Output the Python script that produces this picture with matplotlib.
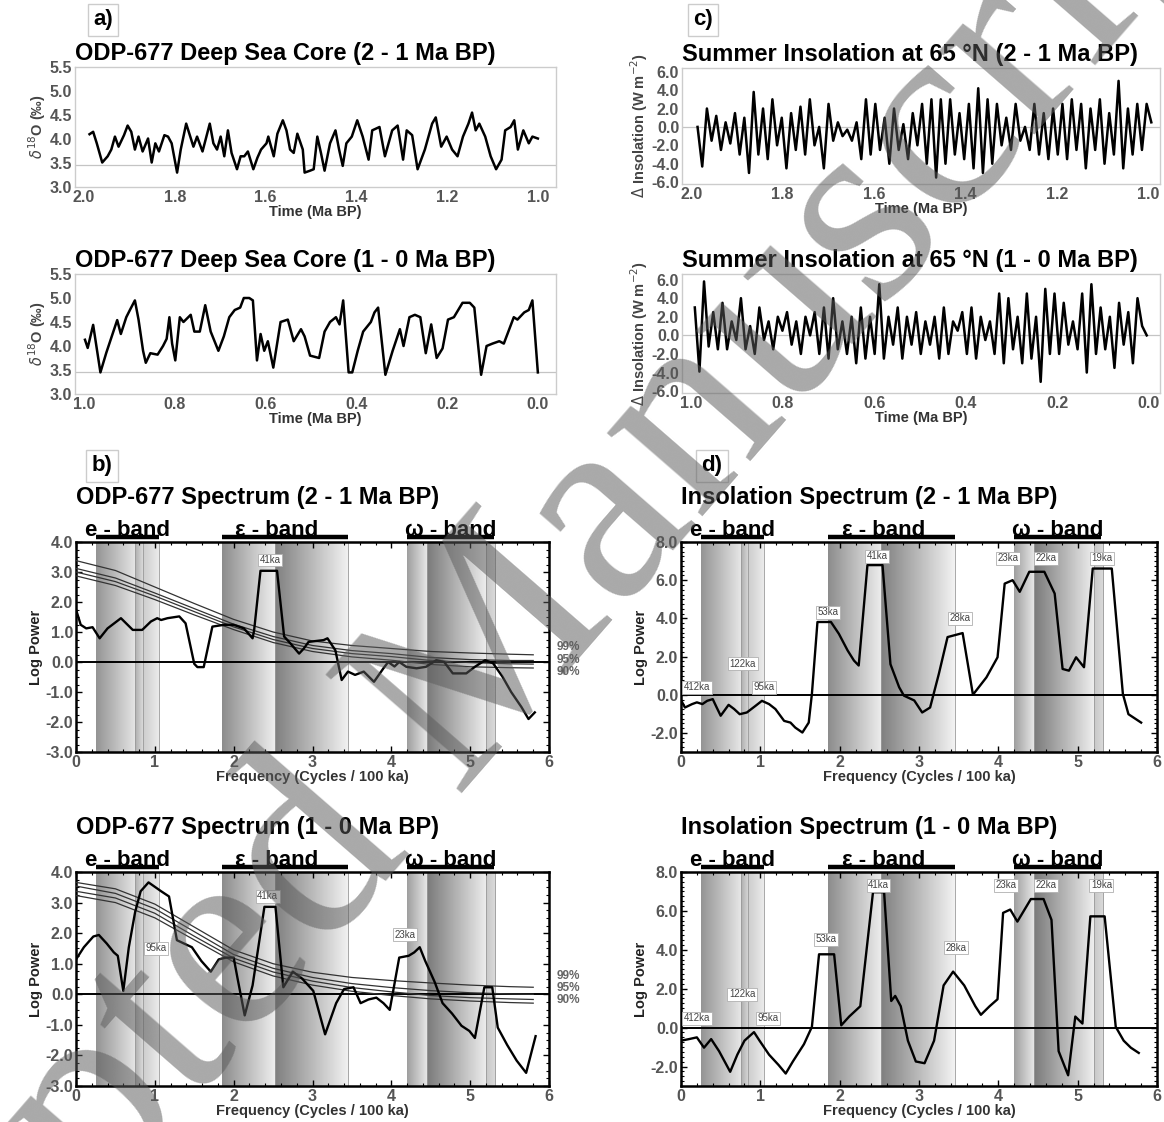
import numpy as np
import matplotlib
matplotlib.use("Agg")
import matplotlib.pyplot as plt
from matplotlib.ticker import MultipleLocator
from matplotlib.transforms import blended_transform_factory

plt.rcParams["font.family"] = ["Liberation Sans", "DejaVu Sans"]

W, H = 1164, 1122

# ODP-677 benthic d18O, 2 - 1 Ma BP
odp_old_age = [1.988, 1.980, 1.972, 1.960, 1.948, 1.940, 1.932, 1.924, 1.912, 1.904,
               1.896, 1.888, 1.880, 1.871, 1.859, 1.851, 1.843, 1.835, 1.823, 1.815,
               1.807, 1.795, 1.787, 1.775, 1.767, 1.759, 1.751, 1.739, 1.723, 1.715,
               1.707, 1.699, 1.691, 1.683, 1.675, 1.663, 1.655, 1.647, 1.639, 1.627,
               1.618, 1.610, 1.598, 1.594, 1.582, 1.574, 1.562, 1.554, 1.546, 1.538,
               1.530, 1.518, 1.514, 1.502, 1.494, 1.486, 1.478, 1.470, 1.458, 1.446,
               1.438, 1.430, 1.422, 1.410, 1.398, 1.386, 1.373, 1.365, 1.349, 1.337,
               1.321, 1.309, 1.297, 1.289, 1.277, 1.265, 1.249, 1.233, 1.225, 1.213,
               1.201, 1.189, 1.177, 1.165, 1.153, 1.145, 1.137, 1.129, 1.116, 1.104,
               1.092, 1.080, 1.072, 1.060, 1.052, 1.044, 1.032, 1.020, 1.012, 1.000]
odp_old_d18o = [4.10, 4.15, 3.91, 3.51, 3.64, 3.78, 4.05, 3.84, 4.08, 4.28,
                4.15, 3.78, 4.05, 3.74, 4.01, 3.51, 3.91, 3.74, 4.08, 4.05,
                3.91, 3.30, 3.78, 4.32, 4.08, 3.84, 4.05, 3.74, 4.32, 3.91,
                3.78, 4.05, 3.64, 4.18, 3.71, 3.37, 3.64, 3.64, 3.74, 3.37,
                3.61, 3.78, 3.91, 4.05, 3.64, 4.11, 4.39, 4.18, 3.78, 3.71,
                4.11, 3.78, 3.30, 3.34, 3.37, 4.05, 3.71, 3.34, 3.91, 4.18,
                3.78, 3.44, 3.91, 4.05, 4.39, 4.05, 3.57, 4.18, 4.25, 3.64,
                4.18, 4.28, 3.57, 4.18, 4.08, 3.37, 3.78, 4.32, 4.45, 3.84,
                4.05, 3.78, 3.64, 4.05, 4.32, 4.55, 4.18, 4.32, 4.05, 3.64,
                3.37, 3.57, 4.18, 4.25, 4.39, 3.78, 4.18, 3.91, 4.05, 4.01]

# ODP-677 benthic d18O, 1 - 0 Ma BP
odp_new_age = [0.998, 0.992, 0.980, 0.964, 0.951, 0.939, 0.927, 0.919, 0.907, 0.899,
               0.888, 0.880, 0.870, 0.864, 0.854, 0.838, 0.826, 0.818, 0.812, 0.806,
               0.799, 0.789, 0.781, 0.765, 0.757, 0.745, 0.733, 0.721, 0.704, 0.692,
               0.680, 0.668, 0.656, 0.648, 0.636, 0.628, 0.619, 0.611, 0.603, 0.595,
               0.583, 0.567, 0.551, 0.538, 0.522, 0.514, 0.502, 0.482, 0.470, 0.458,
               0.445, 0.437, 0.429, 0.417, 0.409, 0.397, 0.385, 0.368, 0.360, 0.352,
               0.336, 0.320, 0.304, 0.296, 0.283, 0.271, 0.259, 0.247, 0.235, 0.223,
               0.210, 0.198, 0.185, 0.166, 0.150, 0.140, 0.125, 0.113, 0.100, 0.085,
               0.075, 0.053, 0.045, 0.030, 0.020, 0.012, 0.000]
odp_new_d18o = [4.13, 3.96, 4.44, 3.45, 3.86, 4.20, 4.54, 4.25, 4.60, 4.75,
                4.95, 4.55, 3.90, 3.65, 3.85, 3.82, 4.00, 4.15, 4.60, 4.05,
                3.70, 4.60, 4.50, 4.65, 4.30, 4.30, 4.85, 4.30, 3.90, 4.20,
                4.60, 4.75, 4.80, 5.00, 5.00, 4.95, 3.70, 4.25, 3.90, 4.10,
                3.55, 4.50, 4.55, 4.10, 4.35, 4.20, 3.80, 3.75, 4.30, 4.50,
                4.60, 4.45, 4.95, 3.45, 3.45, 3.90, 4.30, 4.50, 4.70, 4.80,
                3.40, 3.90, 4.35, 4.00, 4.60, 4.65, 4.60, 3.85, 4.45, 3.75,
                3.95, 4.55, 4.60, 4.90, 4.90, 4.80, 3.40, 4.00, 4.05, 4.10,
                4.05, 4.60, 4.55, 4.70, 4.75, 4.95, 3.45]

# 65N summer insolation anomaly, successive turning points (evenly spaced in time)
insol_old = [0.0, -4.3, 2.0, -1.5, 1.2, -2.5, 0.5, -1.8, 1.5, -3.0,
             1.0, -5.0, 3.8, -3.0, 2.0, -3.5, 3.0, -2.0, 1.0, -4.5,
             1.5, -2.5, 2.2, -3.0, 3.0, -2.0, 0.0, -4.5, 2.5, -1.5,
             0.5, -1.0, -0.3, -1.5, 0.5, -3.5, 3.0, -3.0, 2.5, -2.5,
             1.0, -4.0, 2.0, -2.5, 0.3, -3.5, 1.5, -2.0, 2.5, -4.0,
             3.0, -5.5, 3.0, -4.0, 3.0, -3.0, 1.5, -3.5, 2.5, -4.5,
             4.2, -5.0, 3.0, -4.0, 2.5, -2.0, 1.0, -2.5, 2.5, -1.5,
             0.0, -2.5, 2.5, -3.0, 1.5, -3.5, 2.0, -3.0, 2.5, -3.5,
             3.0, -2.5, 2.5, -4.5, 2.0, -2.5, 3.0, -4.0, 1.5, -3.0,
             5.0, -4.5, 2.0, -3.0, 2.5, -2.5, 2.5, 0.5]
insol_old_span = (1.986, 0.994)
insol_new = [3.0, -3.9, 5.8, -1.2, 2.5, -1.5, 3.5, -1.5, 1.5, -0.5,
             4.0, -1.5, 1.0, -2.0, 3.0, -0.5, 1.5, -1.5, 2.0, 0.5,
             2.5, -1.0, 1.5, -2.0, 2.0, 0.0, 2.5, -2.0, 3.0, -2.5,
             4.0, -1.5, 1.5, -2.0, 2.0, -3.0, 3.0, -2.5, 2.0, -2.0,
             5.5, -2.5, 2.0, -1.0, 3.0, -2.5, 2.0, -1.0, 2.5, -2.0,
             1.5, -1.0, 2.0, -2.5, 3.0, -2.0, 1.5, 0.5, 2.5, -2.0,
             3.0, -2.5, 2.0, -0.5, 1.5, -2.0, 4.5, -3.0, 4.0, -1.5,
             2.0, -3.0, 4.5, -2.5, 2.0, -5.0, 5.0, -2.0, 4.5, -2.0,
             3.5, -1.0, 1.5, -1.5, 4.5, -4.0, 5.5, -2.0, 3.0, -1.5,
             2.0, -3.5, 3.5, -1.0, 2.5, -3.0, 4.0, 1.0, 0.0]
insol_new_span = (0.992, 0.004)

# ODP-677 power spectra
odp_old_freq = [0.00, 0.06, 0.13, 0.21, 0.30, 0.40, 0.57, 0.72, 0.84, 0.95,
                1.03, 1.08, 1.16, 1.31, 1.39, 1.50, 1.54, 1.62, 1.73, 1.88,
                2.00, 2.13, 2.24, 2.26, 2.34, 2.55, 2.64, 2.72, 2.83, 2.89,
                2.95, 3.14, 3.19, 3.29, 3.37, 3.45, 3.54, 3.65, 3.78, 3.90,
                3.96, 4.04, 4.10, 4.19, 4.32, 4.44, 4.57, 4.67, 4.78, 4.95,
                5.06, 5.19, 5.29, 5.41, 5.52, 5.65, 5.74, 5.82]
odp_old_pow = [1.75, 1.24, 1.12, 1.16, 0.79, 1.12, 1.46, 1.07, 1.07, 1.35,
               1.46, 1.40, 1.46, 1.52, 1.29, -0.06, -0.17, -0.17, 1.18, 1.24,
               1.24, 1.12, 0.79, 1.07, 3.04, 3.04, 0.85, 0.62, 0.28, 0.45,
               0.67, 0.73, 0.79, 0.39, -0.60, -0.32, -0.43, -0.32, -0.66, -0.21,
               0.00, -0.15, 0.00, -0.16, -0.21, -0.16, 0.06, 0.00, -0.38, -0.38,
               -0.16, 0.06, -0.04, -0.49, -1.00, -1.50, -1.90, -1.68]
odp_new_freq = [0.00, 0.10, 0.22, 0.29, 0.39, 0.48, 0.53, 0.60, 0.67, 0.75,
                0.82, 0.92, 1.08, 1.18, 1.28, 1.37, 1.47, 1.59, 1.71, 1.81,
                1.90, 2.00, 2.05, 2.14, 2.24, 2.39, 2.53, 2.63, 2.75, 2.87,
                3.01, 3.16, 3.30, 3.40, 3.52, 3.61, 3.71, 3.81, 3.90, 3.98,
                4.10, 4.22, 4.29, 4.36, 4.43, 4.55, 4.65, 4.77, 4.89, 4.99,
                5.06, 5.18, 5.28, 5.35, 5.47, 5.59, 5.71, 5.83]
odp_new_pow = [1.14, 1.54, 1.89, 1.94, 1.66, 1.37, 1.26, 0.11, 1.54, 2.69,
               3.37, 3.66, 3.37, 3.20, 1.77, 1.66, 1.54, 1.09, 0.74, 1.14,
               1.20, 1.20, 0.51, -0.69, 0.29, 2.86, 2.86, 0.23, 0.74, 0.51,
               0.11, -1.31, -0.29, 0.17, 0.23, -0.29, -0.17, -0.11, -0.29, -0.51,
               1.20, 1.26, 1.37, 1.54, 1.09, 0.40, -0.29, -0.63, -1.03, -1.20,
               -1.43, 0.23, 0.23, -1.09, -1.66, -2.17, -2.57, -1.37]

# red-noise confidence levels for the ODP spectra
conf_freq = [0.0, 0.5, 1.0, 1.5, 2.0, 2.5, 3.0, 3.5, 4.0, 4.5, 5.0, 5.5, 5.8]
odp_old_c99 = [3.38, 3.05, 2.50, 1.95, 1.42, 1.00, 0.70, 0.55, 0.45, 0.35, 0.30, 0.26, 0.24]
odp_old_c95 = [3.12, 2.80, 2.30, 1.78, 1.26, 0.85, 0.55, 0.38, 0.28, 0.15, 0.08, 0.05, 0.05]
odp_old_c90 = [3.00, 2.68, 2.20, 1.68, 1.17, 0.75, 0.45, 0.28, 0.18, 0.05, -0.02, -0.06, -0.07]
odp_old_cm = [2.87, 2.55, 2.08, 1.57, 1.08, 0.65, 0.35, 0.17, 0.06, -0.08, -0.16, -0.19, -0.20]
odp_new_c99 = [3.66, 3.45, 2.95, 2.20, 1.45, 1.00, 0.72, 0.55, 0.45, 0.37, 0.30, 0.25, 0.23]
odp_new_c95 = [3.54, 3.30, 2.80, 2.05, 1.30, 0.85, 0.55, 0.35, 0.22, 0.12, 0.05, 0.01, 0.00]
odp_new_c90 = [3.37, 3.15, 2.65, 1.90, 1.18, 0.73, 0.43, 0.22, 0.08, -0.04, -0.11, -0.15, -0.17]
odp_new_cm = [3.23, 3.00, 2.50, 1.78, 1.06, 0.60, 0.30, 0.10, -0.04, -0.15, -0.22, -0.27, -0.29]

# insolation power spectra
ins_old_freq = [0.00, 0.05, 0.14, 0.20, 0.27, 0.33, 0.40, 0.45, 0.50, 0.60,
                0.67, 0.74, 0.83, 0.94, 1.02, 1.11, 1.19, 1.30, 1.38, 1.44,
                1.53, 1.61, 1.65, 1.72, 1.89, 1.99, 2.10, 2.18, 2.24, 2.35,
                2.54, 2.64, 2.75, 2.81, 2.94, 3.04, 3.14, 3.25, 3.36, 3.55,
                3.68, 3.85, 3.99, 4.08, 4.18, 4.27, 4.39, 4.58, 4.71, 4.81,
                4.89, 4.98, 5.08, 5.19, 5.43, 5.57, 5.64, 5.80]
ins_old_pow = [-0.28, -0.67, -0.49, -0.40, -0.49, -0.32, -0.23, -0.67, -1.10, -0.53,
               -0.75, -1.02, -0.93, -0.58, -0.32, -0.49, -0.75, -1.37, -1.46, -1.72,
               -1.98, -1.46, 0.04, 3.81, 3.81, 3.19, 2.32, 1.79, 1.53, 6.79,
               6.79, 1.60, 0.39, -0.05, -0.30, -0.93, -0.67, 1.09, 3.02, 3.23,
               0.00, 0.91, 1.96, 5.82, 6.00, 5.39, 6.44, 6.44, 5.30, 1.35,
               1.26, 1.96, 1.44, 6.61, 6.61, 0.04, -1.02, -1.46]
ins_new_freq = [0.00, 0.10, 0.20, 0.29, 0.38, 0.48, 0.62, 0.71, 0.80, 0.92,
                0.99, 1.11, 1.23, 1.32, 1.41, 1.55, 1.65, 1.74, 1.93, 2.02,
                2.12, 2.26, 2.42, 2.56, 2.65, 2.70, 2.77, 2.86, 2.96, 3.07,
                3.19, 3.31, 3.43, 3.57, 3.71, 3.78, 3.89, 3.99, 4.06, 4.15,
                4.24, 4.41, 4.57, 4.67, 4.76, 4.88, 4.97, 5.06, 5.16, 5.34,
                5.48, 5.58, 5.67, 5.77]
ins_new_pow = [-0.67, -0.59, -0.50, -1.03, -0.59, -1.21, -2.27, -1.39, -0.67, -0.23,
               -0.67, -1.39, -1.92, -2.36, -1.74, -0.85, 0.04, 3.77, 3.77, 0.12,
               0.57, 1.10, 6.96, 6.96, 1.37, 1.63, 1.10, -0.67, -1.74, -1.83,
               -0.67, 2.17, 2.88, 2.17, 1.10, 0.66, 1.10, 1.46, 5.90, 6.07,
               5.45, 6.61, 6.61, 5.54, -1.21, -2.45, 0.57, 0.21, 5.72, 5.72,
               0.04, -0.67, -1.03, -1.30]

# peak annotations: (label, frequency, log power)
odp_old_peaks = [("41ka", 2.46, 3.40)]
odp_new_peaks = [("41ka", 2.43, 3.20), ("95ka", 1.02, 1.50), ("23ka", 4.17, 1.95)]
ins_old_peaks = [("412ka", 0.20, 0.40), ("122ka", 0.78, 1.62), ("95ka", 1.05, 0.40),
                 ("53ka", 1.85, 4.33), ("41ka", 2.47, 7.25), ("28ka", 3.52, 4.00),
                 ("23ka", 4.12, 7.15), ("22ka", 4.60, 7.15), ("19ka", 5.31, 7.15)]
ins_new_peaks = [("412ka", 0.20, 0.48), ("122ka", 0.77, 1.72), ("95ka", 1.10, 0.48),
                 ("53ka", 1.83, 4.55), ("41ka", 2.49, 7.32), ("28ka", 3.47, 4.10),
                 ("23ka", 4.10, 7.32), ("22ka", 4.60, 7.32), ("19ka", 5.30, 7.32)]

# orbital bands (cycles / 100 ka) and the sub-bands shaded inside them
band_names = ["e - band", "\u03b5 - band", "\u03c9 - band"]
band_spans = [(0.25, 1.05), (1.85, 3.45), (4.20, 5.30)]
band_label_x = [0.65, 2.55, 4.75]
shade_x0 = [0.25, 0.75, 0.85, 1.85, 2.52, 4.20, 4.45, 5.20]
shade_x1 = [0.75, 0.85, 1.05, 2.52, 3.45, 4.45, 5.20, 5.32]
shade_dark = [0.58, 0.68, 0.80, 0.55, 0.50, 0.62, 0.48, 0.78]
shade_light = [0.90, 0.85, 0.92, 0.93, 0.95, 0.90, 0.93, 0.86]

conf_labels = ["99%", "95%", "90%"]

TICK_KW = dict(labelsize=11.5, labelcolor="#555555")
TITLE_SIZE = 17

fig = plt.figure(figsize=(W / 100, H / 100), dpi=100)
fig.patch.set_facecolor("white")


def px_axes(left, top, right, bottom):
    return fig.add_axes([left / W, 1 - bottom / H, (right - left) / W, (bottom - top) / H])


def bold_ticks(ax):
    for lab in ax.get_xticklabels() + ax.get_yticklabels():
        lab.set_fontweight("bold")


def time_panel(ax, age, val, xlim, xticks, ylim, yticks, title, ylabel, base):
    ax.plot(age, val, color="black", lw=1.8, zorder=3)
    ax.axhline(base, color="#c4c4c4", lw=0.9, zorder=1)
    ax.set_xlim(*xlim)
    ax.set_ylim(*ylim)
    ax.set_xticks(xticks)
    ax.set_xticklabels([f"{t:.1f}" for t in xticks])
    ax.set_yticks(yticks)
    ax.set_yticklabels([f"{v:.1f}" for v in yticks])
    ax.tick_params(length=0, pad=2, **TICK_KW)
    bold_ticks(ax)
    for sp in ax.spines.values():
        sp.set_color("#cccccc")
        sp.set_linewidth(1.0)
    ax.set_title(title, loc="left", fontsize=TITLE_SIZE, fontweight="bold", pad=5)
    ax.set_xlabel("Time (Ma BP)", fontsize=10.5, fontweight="bold", color="#333333", labelpad=0)
    ax.set_ylabel(ylabel, fontsize=10.5, fontweight="bold", color="#444444", labelpad=1)


def spectrum_panel(ax, freq, power, ylim, yticks, title, peaks):
    ylo, yhi = ylim
    for x0, x1, d, l in zip(shade_x0, shade_x1, shade_dark, shade_light):
        grad = np.linspace(d, l, 128).reshape(1, -1)
        ax.imshow(grad, cmap="gray", vmin=0, vmax=1, aspect="auto",
                  extent=(x0, x1, ylo, yhi), interpolation="bilinear", zorder=0)
        ax.axvline(x1, color="#9a9a9a", lw=0.6, zorder=0.5)
    ax.axhline(0, color="black", lw=1.4, zorder=2)
    ax.plot(freq, power, color="black", lw=1.7, zorder=4)
    for lab, fx, py in peaks:
        ax.text(fx, py, lab, fontsize=7, ha="center", va="center", color="#444444", zorder=5,
                bbox=dict(boxstyle="square,pad=0.15", fc="white", ec="#b0b0b0", lw=0.6))
    ax.set_xlim(0, 6)
    ax.set_ylim(ylo, yhi)
    ax.set_xticks(range(7))
    ax.set_xticklabels([str(i) for i in range(7)])
    ax.set_yticks(yticks)
    ax.set_yticklabels([f"{v:.1f}" for v in yticks])
    ax.xaxis.set_minor_locator(MultipleLocator(0.2))
    ax.yaxis.set_minor_locator(MultipleLocator(0.25))
    ax.tick_params(which="both", direction="in", top=True, right=True, color="black")
    ax.tick_params(which="major", length=4, width=1.0, pad=2, **TICK_KW)
    ax.tick_params(which="minor", length=2.5, width=0.8)
    bold_ticks(ax)
    for sp in ax.spines.values():
        sp.set_color("black")
        sp.set_linewidth(1.8)
    ax.set_xlabel("Frequency (Cycles / 100 ka)", fontsize=10.5, fontweight="bold",
                  color="#333333", labelpad=0)
    ax.set_ylabel("Log Power", fontsize=10.5, fontweight="bold", color="#222222", labelpad=2)
    ax.text(0.0, 1.21, title, transform=ax.transAxes, fontsize=TITLE_SIZE, fontweight="bold",
            ha="left", va="center")
    trans = blended_transform_factory(ax.transData, ax.transAxes)
    for name, (b0, b1), bx in zip(band_names, band_spans, band_label_x):
        ax.plot([b0, b1], [1.024, 1.024], transform=trans, color="black", lw=3.2,
                clip_on=False, solid_capstyle="butt")
        ax.text(bx, 1.03, name, transform=trans, fontsize=16, fontweight="bold",
                ha="center", va="baseline")


def conf_lines(ax, curves, label_y):
    for c in curves:
        ax.plot(conf_freq, c, color="#333333", lw=0.9, zorder=3)
    for lab, y in zip(conf_labels, label_y):
        ax.text(6.1, y, lab, fontsize=8.5, fontweight="bold", color="#666666",
                ha="left", va="center", clip_on=False)


# --- a) ODP-677 records
ax = px_axes(75, 67, 556, 187)
time_panel(ax, odp_old_age, odp_old_d18o, (2.02, 0.96), [2.0, 1.8, 1.6, 1.4, 1.2, 1.0],
           (3.0, 5.5), [3.0, 3.5, 4.0, 4.5, 5.0, 5.5],
           "ODP-677 Deep Sea Core (2 - 1 Ma BP)", r"$\delta^{18}$O (‰)", 3.45)
ax = px_axes(75, 274, 556, 394)
time_panel(ax, odp_new_age, odp_new_d18o, (1.02, -0.04), [1.0, 0.8, 0.6, 0.4, 0.2, 0.0],
           (3.0, 5.5), [3.0, 3.5, 4.0, 4.5, 5.0, 5.5],
           "ODP-677 Deep Sea Core (1 - 0 Ma BP)", r"$\delta^{18}$O (‰)", 3.45)

# --- c) insolation at 65N
ins_ticks = [-6.0, -4.0, -2.0, 0.0, 2.0, 4.0, 6.0]
ins_label = r"$\Delta$ Insolation (W m$^{-2}$)"
ax = px_axes(682, 68, 1160, 184)
time_panel(ax, np.linspace(*insol_old_span, len(insol_old)), insol_old,
           (2.02, 0.975), [2.0, 1.8, 1.6, 1.4, 1.2, 1.0], (-6.2, 6.4), ins_ticks,
           "Summer Insolation at 65 °N (2 - 1 Ma BP)", ins_label, 0.0)
ax = px_axes(682, 274, 1160, 393)
time_panel(ax, np.linspace(*insol_new_span, len(insol_new)), insol_new,
           (1.02, -0.025), [1.0, 0.8, 0.6, 0.4, 0.2, 0.0], (-6.2, 6.6), ins_ticks,
           "Summer Insolation at 65 °N (1 - 0 Ma BP)", ins_label, 0.0)

# --- b) ODP-677 spectra
odp_ticks = [-3.0, -2.0, -1.0, 0.0, 1.0, 2.0, 3.0, 4.0]
ax = px_axes(76, 542, 549, 752)
spectrum_panel(ax, odp_old_freq, odp_old_pow, (-3.0, 4.0), odp_ticks,
               "ODP-677 Spectrum (2 - 1 Ma BP)", odp_old_peaks)
conf_lines(ax, [odp_old_c99, odp_old_c95, odp_old_c90, odp_old_cm], [0.5, 0.08, -0.32])
ax = px_axes(76, 872, 549, 1086)
spectrum_panel(ax, odp_new_freq, odp_new_pow, (-3.0, 4.0), odp_ticks,
               "ODP-677 Spectrum (1 - 0 Ma BP)", odp_new_peaks)
conf_lines(ax, [odp_new_c99, odp_new_c95, odp_new_c90, odp_new_cm], [0.6, 0.2, -0.2])

# --- d) insolation spectra
ins_spec_ticks = [-2.0, 0.0, 2.0, 4.0, 6.0, 8.0]
ax = px_axes(681, 542, 1157, 752)
spectrum_panel(ax, ins_old_freq, ins_old_pow, (-3.0, 8.0), ins_spec_ticks,
               "Insolation Spectrum (2 - 1 Ma BP)", ins_old_peaks)
ax = px_axes(681, 872, 1157, 1086)
spectrum_panel(ax, ins_new_freq, ins_new_pow, (-3.0, 8.0), ins_spec_ticks,
               "Insolation Spectrum (1 - 0 Ma BP)", ins_new_peaks)

# panel letters
for letter, (px, py) in zip(["a)", "c)", "b)", "d)"], [(103, 20), (703, 20), (102, 466), (712, 466)]):
    fig.text(px / W, 1 - py / H, letter, fontsize=16, fontweight="bold", ha="center", va="center",
             bbox=dict(boxstyle="square,pad=0.25", fc="white", ec="#cccccc", lw=1.0))

# manuscript stamp across the page
fig.text(455 / W, 1 - 700 / H, "Accepted Manuscript", rotation=49, rotation_mode="anchor",
         ha="center", va="center", fontsize=199, family="Liberation Serif",
         color="#5a5a5a", alpha=0.52, zorder=50)

fig.savefig("out.png", dpi=100, facecolor="white")
